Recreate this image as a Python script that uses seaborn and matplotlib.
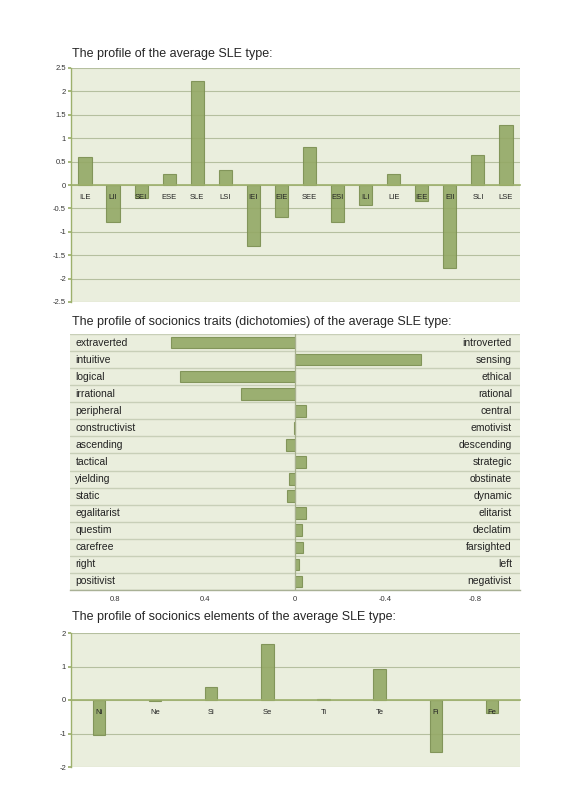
import numpy as np
import pandas as pd
import seaborn as sns
import matplotlib.pyplot as plt
from matplotlib.ticker import FuncFormatter

# data
types = ['ILE', 'LII', 'SEI', 'ESE', 'SLE', 'LSI', 'IEI', 'EIE',
         'SEE', 'ESI', 'ILI', 'LIE', 'IEE', 'EII', 'SLI', 'LSE']
type_values = [0.60, -0.78, -0.27, 0.24, 2.22, 0.33, -1.30, -0.68,
               0.81, -0.78, -0.42, 0.24, -0.34, -1.77, 0.65, 1.29]

left_traits = ['extraverted', 'intuitive', 'logical', 'irrational', 'peripheral',
               'constructivist', 'ascending', 'tactical', 'yielding', 'static',
               'egalitarist', 'questim', 'carefree', 'right', 'positivist']
right_traits = ['introverted', 'sensing', 'ethical', 'rational', 'central',
                'emotivist', 'descending', 'strategic', 'obstinate', 'dynamic',
                'elitarist', 'declatim', 'farsighted', 'left', 'negativist']
trait_values = [0.55, -0.56, 0.51, 0.24, -0.05, 0.005, 0.04, -0.05,
                0.025, 0.035, -0.048, -0.03, -0.035, -0.02, -0.032]

elements = ['Ni', 'Ne', 'Si', 'Se', 'Ti', 'Te', 'Fi', 'Fe']
element_values = [-1.05, -0.04, 0.38, 1.68, 0.03, 0.93, -1.54, -0.39]

titles = ['The profile of the average SLE type:',
          'The profile of socionics traits (dichotomies) of the average SLE type:',
          'The profile of socionics elements of the average SLE type:']

BG = '#eaeedd'
BAR = '#93a865'
EDGE = '#7b8f52'
GRID = '#b5bf9f'
AXIS = '#9db06c'

sns.set_theme(style='white')
plt.rcParams['font.family'] = ['Liberation Sans', 'DejaVu Sans']

fig = plt.figure(figsize=(5.66, 8), dpi=100)


def column_chart(ax, cats, vals, lim, step, width):
    df = pd.DataFrame({'cat': cats, 'val': vals})
    sns.barplot(data=df, x='cat', y='val', ax=ax, color=BAR, width=width,
                edgecolor=EDGE, linewidth=0.8, saturation=1, alpha=0.9, zorder=3)
    ax.set_facecolor(BG)
    ax.set_ylim(-lim, lim)
    ax.set_xlim(-0.5, len(cats) - 0.5)
    ax.set_yticks(np.arange(-lim, lim + step / 2, step))
    ax.yaxis.set_major_formatter(FuncFormatter(lambda v, p: '{:g}'.format(round(v, 2))))
    ax.grid(axis='y', color=GRID, linewidth=0.8, zorder=0)
    for s in ['top', 'right']:
        ax.spines[s].set_visible(False)
    ax.spines['left'].set_color(AXIS)
    ax.spines['left'].set_linewidth(1.0)
    ax.spines['bottom'].set_position(('data', 0))
    ax.spines['bottom'].set_color(AXIS)
    ax.spines['bottom'].set_linewidth(1.2)
    ax.spines['bottom'].set_zorder(4)
    ax.set_xticks(np.arange(-0.5, len(cats)), minor=True)
    ax.set_xticks(np.arange(len(cats)))
    ax.set_xticklabels([])
    ax.tick_params(axis='x', which='major', length=0)
    ax.tick_params(axis='x', which='minor', length=2.5, direction='in', color=AXIS)
    ax.tick_params(axis='y', length=2.5, direction='out', color=AXIS, labelsize=5.5,
                   pad=1, left=True, colors='#333333')
    # category labels drawn on top of the bars
    for i, c in enumerate(cats):
        ax.annotate(c, (i, 0), xytext=(0, -9), textcoords='offset points',
                    ha='center', va='center', fontsize=5.5, color='#222222', zorder=6)
    ax.set_xlabel('')
    ax.set_ylabel('')


# chart 1
ax1 = fig.add_axes([0.1254, 0.6225, 0.7933, 0.2925])
column_chart(ax1, types, type_values, 2.5, 0.5, 0.47)
fig.text(72 / 566, 1 - 54 / 800, titles[0], fontsize=9, va='center', ha='left')

# chart 2
ax2 = fig.add_axes([0.1237, 0.2625, 0.795, 0.32])
df2 = pd.DataFrame({'trait': left_traits, 'val': trait_values})
sns.barplot(data=df2, y='trait', x='val', orient='h', ax=ax2, color=BAR, width=0.68,
            edgecolor=EDGE, linewidth=0.8, saturation=1, alpha=0.9, zorder=3)
ax2.set_facecolor(BG)
ax2.set_xlim(1.0, -1.0)
ax2.set_ylim(len(left_traits) - 0.5, -0.5)
ax2.set_xticks([0.8, 0.4, 0, -0.4, -0.8])
ax2.xaxis.set_major_formatter(FuncFormatter(lambda v, p: '{:g}'.format(round(v, 2))))
ax2.set_yticks(np.arange(-0.5, len(left_traits)), minor=True)
ax2.set_yticks([])
ax2.grid(axis='y', which='minor', color='#c8cfb8', linewidth=1.0, zorder=0)
ax2.axvline(0, color='#a7b08e', linewidth=0.9, zorder=4)
for s in ['top', 'right', 'left']:
    ax2.spines[s].set_visible(False)
ax2.spines['bottom'].set_color('#a9b196')
ax2.spines['bottom'].set_linewidth(1.0)
ax2.tick_params(axis='x', length=2.5, color='#a9b196', labelsize=5.5, pad=1.5, colors='#333333')
ax2.tick_params(axis='y', which='both', length=0)
ax2.set_xlabel('')
ax2.set_ylabel('')
tr = ax2.get_yaxis_transform()
for i, (lt, rt) in enumerate(zip(left_traits, right_traits)):
    ax2.text(0.012, i, lt, transform=tr, ha='left', va='center', fontsize=7.5, color='#222222', zorder=5)
    ax2.text(0.982, i, rt, transform=tr, ha='right', va='center', fontsize=7.5, color='#222222', zorder=5)
fig.text(72 / 566, 1 - 322 / 800, titles[1], fontsize=9, va='center', ha='left')

# chart 3
ax3 = fig.add_axes([0.1254, 0.04125, 0.7933, 0.1675])
column_chart(ax3, elements, element_values, 2, 1, 0.22)
fig.text(72 / 566, 1 - 617 / 800, titles[2], fontsize=9, va='center', ha='left')

fig.savefig('out.png', dpi=100, facecolor='white')
